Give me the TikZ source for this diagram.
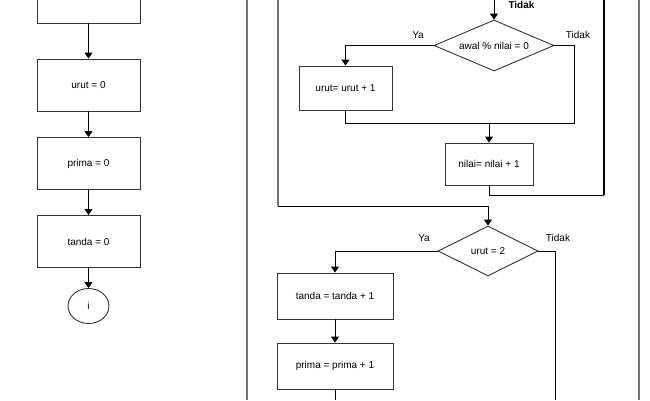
\documentclass[tikz,border=0pt]{standalone}
\usepackage{fontspec}
\setmainfont{Liberation Sans}
\usetikzlibrary{shapes.geometric,arrows.meta}

\begin{document}
\begin{tikzpicture}[x=1pt, y=-1pt,
  every node/.style={font=\fontsize{10}{12}\selectfont},
  proc/.style={draw=black!80, line width=0.9pt, rectangle, inner sep=0pt},
  dec/.style={draw=black!80, line width=0.9pt, diamond, aspect=2.2, inner sep=0pt},
  conn/.style={draw=black!80, line width=0.9pt, ellipse, minimum width=41pt, minimum height=35pt, inner sep=0pt},
  flow/.style={line width=0.9pt, -{Triangle[width=8pt,length=6pt]}},
  line/.style={line width=0.9pt},
  frame/.style={draw=black!55, line width=1.6pt},
  lbl/.style={inner sep=0pt}
]
\useasboundingbox (0,0) rectangle (650,400);
\clip (0,0) rectangle (650,400);

% left column
\node[proc, minimum width=103pt, minimum height=52pt] (init) at (88.5,-3) {};
\node[proc, minimum width=103pt, minimum height=52pt] (urut0) at (88.5,85) {urut = 0};
\node[proc, minimum width=103pt, minimum height=52pt] (prima0) at (88.5,163.5) {prima = 0};
\node[proc, minimum width=103pt, minimum height=52pt] (tanda0) at (88.5,241.5) {tanda = 0};
\node[conn] (lab) at (88.5,306) {i};

\draw[flow] (init) -- (urut0);
\draw[flow] (urut0) -- (prima0);
\draw[flow] (prima0) -- (tanda0);
\draw[flow] (tanda0) -- (lab);

% loop frame
\coordinate (fl1) at (247,0);
\coordinate (fl2) at (247,400);
\coordinate (fr1) at (639,0);
\coordinate (fr2) at (639,400);
\draw[frame] (fl1) -- (fl2);
\draw[frame] (fr1) -- (fr2);

% inner loop
\coordinate (in1) at (494,0);
\node[dec, minimum width=120pt, minimum height=51pt] (mod) at (494,45.5) {awal \% nilai = 0};
\node[proc, minimum width=93pt, minimum height=44pt] (incurut) at (345.5,88) {urut= urut + 1};
\node[proc, minimum width=88pt, minimum height=42pt] (incnilai) at (489,164) {nilai= nilai + 1};
\coordinate (j1) at (489,123);
\coordinate (j2) at (604,195);
\coordinate (back1) at (604,0);

\draw[flow] (in1) -- (mod.north);
\draw[flow] (mod.west) -| (incurut.north);
\draw[line] (mod.east) -- ++(20,0) |- (j1);
\draw[line] (incurut.south) |- (j1);
\draw[flow] (j1) -- (incnilai.north);
\draw[line] (incnilai.south) |- (j2);
\draw[line width=1.5pt] (j2) -- (back1);

\node[lbl, font=\fontsize{10}{12}\selectfont\bfseries] (tidak0) at (521.5,5) {Tidak};
\node[lbl] (ya1) at (418,35) {Ya};
\node[lbl] (tidak1) at (578,35) {Tidak};

% after inner loop
\coordinate (back2) at (278,0);
\coordinate (j3) at (278,206);
\coordinate (j4) at (488,206);
\node[dec, minimum width=100pt, minimum height=50pt] (cek) at (488,251) {urut = 2};
\node[proc, minimum width=116pt, minimum height=46pt] (inctanda) at (335,296) {tanda = tanda + 1};
\node[proc, minimum width=116pt, minimum height=46pt] (incprima) at (335,366) {prima = prima + 1};
\coordinate (out1) at (335,400);
\coordinate (out2) at (555,400);

\draw[draw=black!55, line width=1.2pt] (back2) -- (j3);
\draw[line] (j3) -- (j4);
\draw[flow] (j4) -- (cek.north);
\draw[flow] (cek.west) -| (inctanda.north);
\draw[flow] (inctanda) -- (incprima);
\draw[line] (incprima.south) -- (out1);
\draw[line] (cek.east) -| (out2);

\node[lbl] (ya2) at (424,238) {Ya};
\node[lbl] (tidak2) at (558,238) {Tidak};
\end{tikzpicture}
\end{document}
